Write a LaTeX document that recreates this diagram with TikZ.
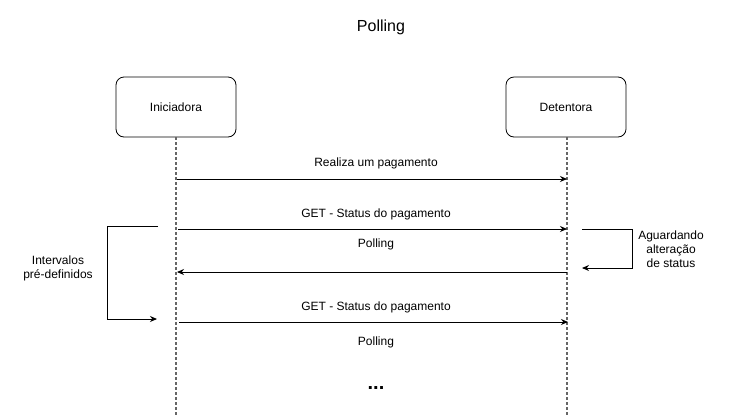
\documentclass[tikz,border=0pt]{standalone}
\usepackage{fontspec}
\setmainfont{Liberation Sans}
\usetikzlibrary{arrows.meta}
\begin{document}
\begin{tikzpicture}[x=1pt,y=-1pt,
  actor/.style={draw, rounded corners=8pt, minimum width=120pt, minimum height=60pt, line width=0.8pt, font=\fontsize{12}{14}\selectfont},
  lifeline/.style={draw=black!60, dash pattern=on 3pt off 2pt, line width=1.2pt},
  msg/.style={line width=0.9pt, -{Stealth[length=7pt,width=6pt]}},
  lbl/.style={font=\fontsize{12}{14}\selectfont, align=center, inner sep=0pt}
]
\useasboundingbox (0,0) rectangle (730,416);
\node[font=\fontsize{16}{18}\selectfont, inner sep=0pt] (title) at (381,27) {Polling};
\node[actor] (ini) at (176,107) {Iniciadora};
\node[actor] (det) at (566,107) {Detentora};
\coordinate (iniEnd) at (176,416);
\coordinate (detEnd) at (567,416);
\draw[lifeline] (ini.south) -- (iniEnd);
\draw[lifeline] ([xshift=1pt]det.south) -- (detEnd);
% message coordinates
\coordinate (a1) at (177,179); \coordinate (b1) at (567,179);
\coordinate (a2) at (178,229); \coordinate (b2) at (567,229);
\coordinate (a3) at (177,272); \coordinate (b3) at (567,272);
\coordinate (a4) at (179,322); \coordinate (b4) at (568,322);
\draw[msg] (a1) -- (b1);
\draw[msg] (a2) -- (b2);
\draw[msg] (b3) -- (a3);
\draw[msg] (a4) -- (b4);
\node[lbl] (m1) at (376,163) {Realiza um pagamento};
\node[lbl] (m2) at (376,214) {GET - Status do pagamento};
\node[lbl] (m3) at (376,244) {Polling};
\node[lbl] (m4) at (376,307) {GET - Status do pagamento};
\node[lbl] (m5) at (376,342) {Polling};
\node[font=\fontsize{20}{22}\selectfont\bfseries, inner sep=0pt] (dots) at (376,388) {...};
% left loop
\coordinate (l1) at (158,226);
\coordinate (l2) at (157,319);
\draw[msg] (l1) -- (107,226) -- (107,319) -- (l2);
\node[lbl] (il) at (58,268) {Intervalos\\pré-definidos};
% right loop
\coordinate (r1) at (582,229);
\coordinate (r2) at (582,268);
\draw[msg] (r1) -- (632,229) -- (632,268) -- (r2);
\node[lbl] (ir) at (671,249) {Aguardando\\alteração\\de status};
\end{tikzpicture}
\end{document}
